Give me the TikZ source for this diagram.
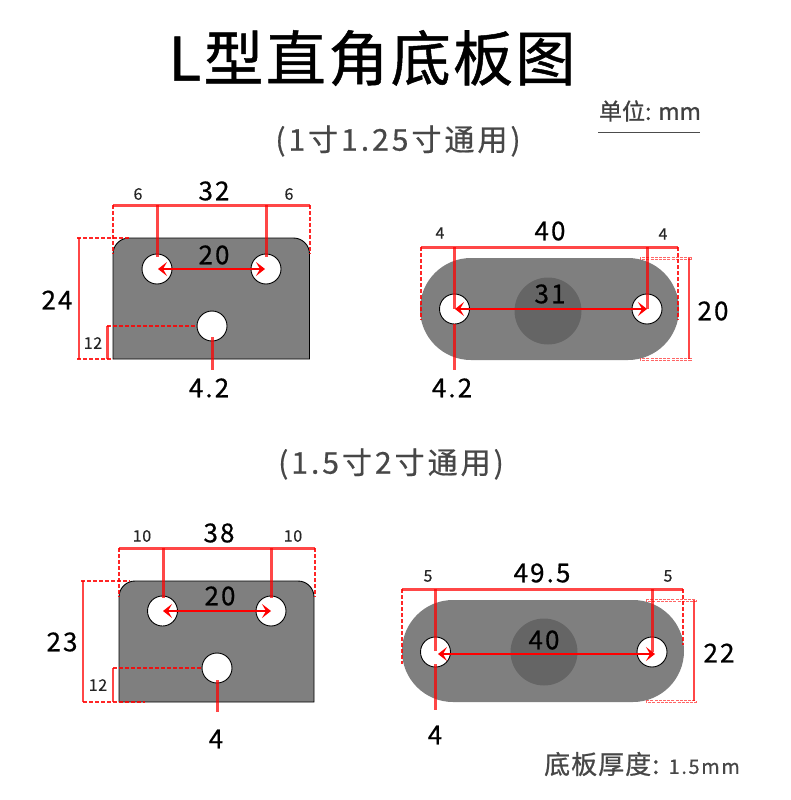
\documentclass[tikz,border=0pt]{standalone}
\usepackage{fontspec}
\setmainfont{Noto Sans CJK SC}
\newfontfamily\spacedfont[LetterSpace=8,FakeBold=0.6]{Noto Sans CJK SC}
\newfontfamily\subfont[LetterSpace=10,FakeBold=0.6]{Noto Sans CJK SC}
\newfontfamily\heavyfont[FakeBold=0.8]{Noto Sans CJK SC}
\newfontfamily\titlefont[FakeBold=0.8,LetterSpace=4]{Noto Sans CJK SC}
\newfontfamily\midfont[FakeBold=0.4,LetterSpace=4]{Noto Sans CJK SC}
\newfontfamily\notefont[FakeBold=0.8,LetterSpace=4]{Noto Sans CJK SC}
\newfontfamily\notemm[FakeBold=0.4,LetterSpace=8]{Noto Sans CJK SC}
\usetikzlibrary{arrows.meta}
\definecolor{plategray}{HTML}{7F7F7F}
\tikzset{
  plate/.style={fill=plategray,draw=none},
  plateline/.style={fill=plategray,draw=black,line width=0.9pt},
  hole/.style={circle,draw=black,fill=white,line width=0.9pt,minimum size=30pt,inner sep=0pt},
  dimline/.style={draw=red,opacity=.72,line width=3pt},
  thinline/.style={draw=red,opacity=.72,line width=2.2pt},
  dashline/.style={draw=red,opacity=.85,line width=1.4pt,dash pattern=on 4pt off 2pt},
  palebox/.style={draw=red,opacity=.6,line width=.7pt,dash pattern=on 3pt off 1.2pt},
  span/.style={draw=red,line width=1.5pt,{Stealth[length=9pt,width=14pt,inset=4pt]}-{Stealth[length=9pt,width=14pt,inset=4pt]}},
  bigdim/.style={font=\spacedfont\fontsize{26}{26}\selectfont,text=black,inner sep=0pt},
  smalldim/.style={font=\midfont\fontsize{16}{16}\selectfont,text=black!85,inner sep=0pt},
  subtitle/.style={font=\subfont\fontsize{30}{30}\selectfont,text=black!72,inner sep=0pt}
}
\begin{document}
\begin{tikzpicture}[x=1pt,y=-1pt]
\useasboundingbox (0,0) rectangle (790,800);
\fill[white] (0,0) rectangle (790,800);
% Titles
\node[inner sep=0pt,font=\titlefont\fontsize{60}{60}\selectfont,text=black] (title) at (372,58) {L型直角底板图};
\node[inner sep=0pt,font=\heavyfont\fontsize{23}{23}\selectfont,text=black!75] (unit) at (650,111) {单位: mm};
\draw[black!70,line width=1pt] (598,132) -- (700,132);
\node[subtitle] (subA) at (398,141) {(1寸1.25寸通用)};
\node[subtitle] (subB) at (391,464) {(1.5寸2寸通用)};
\node[inner sep=0pt,font=\notefont\fontsize{26}{26}\selectfont,text=black!72] (thick) at (642,764) {底板厚度: {\notemm\fontsize{20}{20}\selectfont 1.5mm}};

% ---------- Plate A
\draw[plateline] (113,359) -- (113,254) arc[start angle=180,end angle=270,radius=16] -- (293.5,238) arc[start angle=270,end angle=360,radius=16] -- (309.5,359) -- cycle;
\node[hole] (a1) at (157,269) {};
\node[hole] (a2) at (266,269) {};
\node[hole] (a3) at (212,326) {};
\draw[dimline] (113,205) -- (310,205);
\draw[dimline] (157,205) -- (157,257);
\draw[dimline] (266,205) -- (266,257);
\draw[dimline] (212,337) -- (212,370);
\draw[dashline] (113,205) -- (113,254);
\draw[dashline] (310,205) -- (310,254);
\draw[thinline] (79,238) -- (79,359);
\draw[dashline] (77,238) -- (130,238);
\draw[dashline] (77,359) -- (113,359);
\draw[thinline] (107.5,326) -- (107.5,359);
\draw[dashline] (107,326) -- (197,326);
\draw[span] (158,269) -- (265,269);
\node[bigdim] (a32) at (214,191) {32};
\node[smalldim] (a6l) at (138,194) {6};
\node[smalldim] (a6r) at (289,194) {6};
\node[bigdim] (a20) at (214,255) {20};
\node[bigdim] (a24) at (57,300) {24};
\node[smalldim] (a12) at (93,343) {12};
\node[bigdim] (a42) at (209,388) {4.2};

% ---------- Plate B
\fill[plate] (471,258) -- (628,258) arc[start angle=270,end angle=450,radius=51] -- (471,360) arc[start angle=90,end angle=270,radius=51] -- cycle;
\fill[black,opacity=.2] (548,311) circle[radius=33.5];
\node[hole] (b1) at (454.5,309) {};
\node[hole] (b2) at (647,309) {};
\draw[dimline] (421,247) -- (678,247);
\draw[dimline] (454,247) -- (454,309);
\draw[dimline] (647.5,247) -- (647.5,309);
\draw[dimline] (454,324) -- (454,370);
\draw[dashline] (421,247) -- (421,320);
\draw[dashline] (678,247) -- (678,320);
\draw[thinline] (689,258) -- (689,359);
\draw[palebox] (640,257.5) rectangle (691,259.5);
\draw[palebox] (640,358) rectangle (691,360);
\draw[span] (455,309) -- (647,309);
\node[bigdim] (b40) at (550,231) {40};
\node[smalldim] (b4l) at (440,233) {4};
\node[smalldim] (b4r) at (663,234) {4};
\node[bigdim] (b31) at (550,294) {31};
\node[bigdim] (b20) at (713,311) {20};
\node[bigdim] (b42) at (452,388) {4.2};

% ---------- Plate C
\draw[plateline] (119,702) -- (119,597) arc[start angle=180,end angle=270,radius=16] -- (298,581) arc[start angle=270,end angle=360,radius=16] -- (314,702) -- cycle;
\node[hole] (c1) at (162.5,611) {};
\node[hole] (c2) at (271,611) {};
\node[hole] (c3) at (217,668) {};
\draw[dimline] (119,548) -- (315,548);
\draw[dimline] (163,548) -- (163,598);
\draw[dimline] (271,548) -- (271,598);
\draw[dimline] (217,680) -- (217,712);
\draw[dashline] (119,548) -- (119,597);
\draw[dashline] (315,548) -- (315,597);
\draw[thinline] (83,581) -- (83,702);
\draw[dashline] (81,581) -- (130,581);
\draw[dashline] (83,702) -- (145,702);
\draw[thinline] (113,668) -- (113,702);
\draw[dashline] (113,668) -- (201,668);
\draw[span] (163,611) -- (271,611);
\node[bigdim] (c38) at (219,533) {38};
\node[smalldim] (c10l) at (142,536) {10};
\node[smalldim] (c10r) at (293,536) {10};
\node[bigdim] (c20) at (220,596) {20};
\node[bigdim] (c23) at (62,642) {23};
\node[smalldim] (c12) at (98,685) {12};
\node[bigdim] (c4) at (216,739) {4};

% ---------- Plate D
\fill[plate] (453,600) -- (633,600) arc[start angle=270,end angle=450,radius=51] -- (453,702) arc[start angle=90,end angle=270,radius=51] -- cycle;
\fill[black,opacity=.2] (544,652) circle[radius=33.5];
\node[hole] (d1) at (435.5,652) {};
\node[hole] (d2) at (652,652) {};
\draw[dimline] (402,589) -- (683,589);
\draw[dimline] (435.5,589) -- (435.5,651);
\draw[dimline] (652.5,589) -- (652.5,652);
\draw[dimline] (435.5,664) -- (435.5,710);
\draw[dashline] (402,589) -- (402,664);
\draw[dashline] (683,589) -- (683,645);
\draw[thinline] (694,600) -- (694,701);
\draw[palebox] (646,599.5) rectangle (696,601.5);
\draw[palebox] (646,700) rectangle (696,702);
\draw[span] (438,654) -- (655,654);
\node[bigdim] (d495) at (542,573) {49.5};
\node[smalldim] (d5l) at (428,576) {5};
\node[smalldim] (d5r) at (668,576) {5};
\node[bigdim] (d40) at (544,640) {40};
\node[bigdim] (d22) at (719,653) {22};
\node[bigdim] (d4) at (435,735) {4};
\end{tikzpicture}
\end{document}
